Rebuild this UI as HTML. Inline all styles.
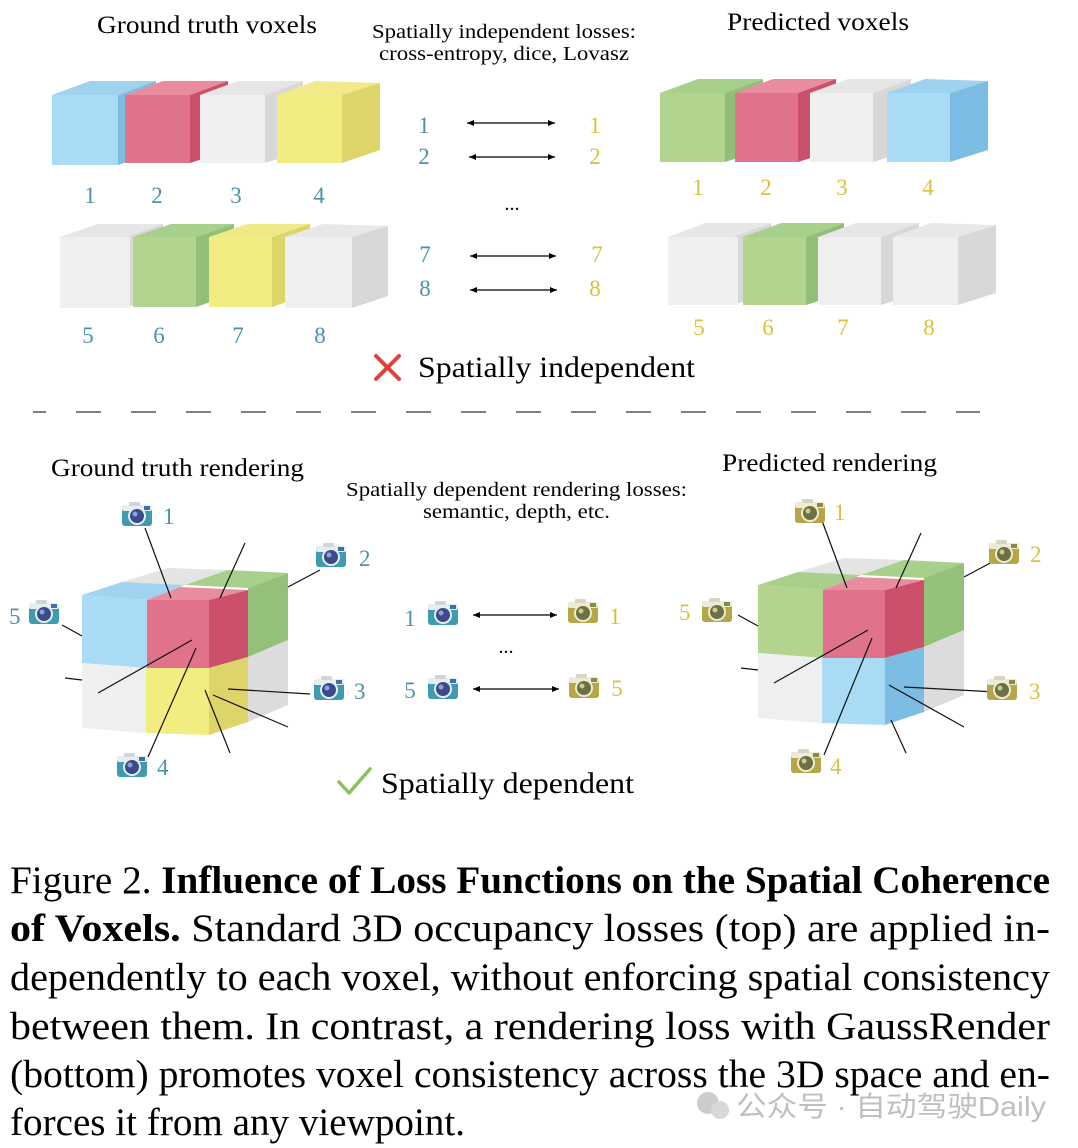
<!DOCTYPE html>
<html><head><meta charset="utf-8"><style>
html,body{margin:0;padding:0;background:#fff}
svg{display:block}
text{font-family:"Liberation Serif",serif}
</style></head><body>
<svg width="1078" height="1148" viewBox="0 0 1078 1148" xmlns="http://www.w3.org/2000/svg">
<defs>
<g id="camT">
<rect x="-15" y="-11" width="30" height="21" rx="3" fill="#3f9bb0"/>
<rect x="-15" y="-11" width="30" height="6" rx="2" fill="#e8eef0"/>
<rect x="-8" y="-14" width="11" height="4" rx="1" fill="#d0d6d8"/>
<rect x="7" y="-10" width="6" height="4" fill="#3a6fb0"/>
<circle cx="0" cy="0" r="9" fill="#e8eef0"/>
<circle cx="0" cy="0" r="7" fill="#3b4a8a"/>
<circle cx="-2" cy="-2" r="2.5" fill="#8fa0d8"/>
</g>
<g id="camY">
<rect x="-15" y="-11" width="30" height="21" rx="3" fill="#b7a648"/>
<rect x="-15" y="-11" width="30" height="6" rx="2" fill="#ecebd8"/>
<rect x="-8" y="-14" width="11" height="4" rx="1" fill="#d8d6c0"/>
<rect x="7" y="-10" width="6" height="4" fill="#8a8a40"/>
<circle cx="0" cy="0" r="9" fill="#ecebd8"/>
<circle cx="0" cy="0" r="7" fill="#6d7040"/>
<circle cx="-2" cy="-2" r="2.5" fill="#c8cc90"/>
</g>
<marker id="ah" markerWidth="8" markerHeight="8" refX="7" refY="4" orient="auto-start-reverse" markerUnits="userSpaceOnUse"><path d="M0,1 L7,4 L0,7 Z" fill="#000"/></marker>
</defs>

<!-- titles -->
<text x="97" y="33" font-size="25" textLength="220" lengthAdjust="spacingAndGlyphs">Ground truth voxels</text>
<text x="727" y="30" font-size="25" textLength="182" lengthAdjust="spacingAndGlyphs">Predicted voxels</text>
<text x="372" y="38" font-size="20" textLength="264" lengthAdjust="spacingAndGlyphs">Spatially independent losses:</text>
<text x="379" y="60" font-size="20" textLength="250" lengthAdjust="spacingAndGlyphs">cross-entropy, dice, Lovasz</text>

<!-- GT row1 -->
<g>
<polygon points="52,95 90,81 156,81 118,95" fill="#9fd2ee"/><polygon points="118,95 156,81 156,151 118,165" fill="#7cbde3"/><rect x="52" y="95" width="66" height="70" fill="#aadbf4"/>
<polygon points="125,95 163,81 228,81 190,95" fill="#e88c9e"/><polygon points="190,95 228,81 228,151 190,163" fill="#cc5069"/><rect x="125" y="95" width="65" height="68" fill="#e0738b"/>
<polygon points="200,95 238,81 303,81 265,95" fill="#e6e6e6"/><polygon points="265,95 303,81 303,151 265,163" fill="#d8d8d8"/><rect x="200" y="95" width="65" height="68" fill="#eeefef"/>
<polygon points="277,95 315,81 380,83 342,95" fill="#f0ea8a"/><polygon points="342,95 380,83 380,150 342,163" fill="#ddd56a"/><rect x="277" y="95" width="65" height="68" fill="#f2ed80"/>
</g>
<g>
<polygon points="60,237 98,224 163,224 125,237" fill="#e6e6e6"/><polygon points="125,237 163,224 163,294 125,308" fill="#d8d8d8"/><rect x="60" y="237" width="70" height="71" fill="#eeefef"/>
<polygon points="133,237 171,224 234,224 196,237" fill="#a8cf8c"/><polygon points="196,237 234,224 234,294 196,307" fill="#92bf78"/><rect x="133" y="237" width="63" height="70" fill="#b2d48e"/>
<polygon points="209,237 247,224 310,224 272,237" fill="#eeea88"/><polygon points="272,237 310,224 310,294 272,307" fill="#ddd56a"/><rect x="209" y="237" width="63" height="70" fill="#f2ed80"/>
<polygon points="285,237 323,224 388,226 352,237" fill="#e8e8e8"/><polygon points="352,237 388,226 388,296 352,308" fill="#d8d8d8"/><rect x="285" y="237" width="67" height="71" fill="#eeefef"/>
</g>
<g font-size="23" fill="#4a93a8" text-anchor="middle">
<text x="90" y="203">1</text><text x="157" y="203">2</text><text x="236" y="203">3</text><text x="319" y="203">4</text>
<text x="88" y="343">5</text><text x="159" y="343">6</text><text x="238" y="343">7</text><text x="320" y="343">8</text>
<text x="424" y="133">1</text><text x="424" y="164">2</text><text x="425" y="262">7</text><text x="425" y="296">8</text>
<text x="410" y="626">1</text><text x="410" y="698">5</text>
</g>

<!-- Pred row1 -->
<g>
<polygon points="660,93 698,79 763,79 725,93" fill="#a8cf8c"/><polygon points="725,93 763,79 763,150 725,162" fill="#92bf78"/><rect x="660" y="93" width="65" height="69" fill="#b2d48e"/>
<polygon points="735,93 773,79 836,79 798,93" fill="#e88c9e"/><polygon points="798,93 836,79 836,150 798,162" fill="#cc5069"/><rect x="735" y="93" width="63" height="69" fill="#e0738b"/>
<polygon points="810,93 848,79 911,79 873,93" fill="#e6e6e6"/><polygon points="873,93 911,79 911,150 873,162" fill="#d8d8d8"/><rect x="810" y="93" width="63" height="69" fill="#eeefef"/>
<polygon points="887,93 925,79 988,81 950,93" fill="#9fd2ee"/><polygon points="950,93 988,81 988,150 950,162" fill="#7cbde3"/><rect x="887" y="93" width="63" height="69" fill="#aadbf4"/>
</g>
<g>
<polygon points="668,237 706,223 771,223 733,237" fill="#e6e6e6"/><polygon points="733,237 771,223 771,293 733,305" fill="#d8d8d8"/><rect x="668" y="237" width="70" height="68" fill="#eeefef"/>
<polygon points="743,237 781,223 844,223 806,237" fill="#a8cf8c"/><polygon points="806,237 844,223 844,293 806,305" fill="#92bf78"/><rect x="743" y="237" width="63" height="68" fill="#b2d48e"/>
<polygon points="818,237 856,223 919,223 881,237" fill="#e6e6e6"/><polygon points="881,237 919,223 919,293 881,305" fill="#d8d8d8"/><rect x="818" y="237" width="63" height="68" fill="#eeefef"/>
<polygon points="893,237 931,223 996,225 958,237" fill="#e8e8e8"/><polygon points="958,237 996,225 996,293 958,305" fill="#d8d8d8"/><rect x="893" y="237" width="65" height="68" fill="#eeefef"/>
</g>
<g font-size="23" fill="#d8c23c" text-anchor="middle">
<text x="698" y="195">1</text><text x="766" y="195">2</text><text x="842" y="195">3</text><text x="928" y="195">4</text>
<text x="699" y="335">5</text><text x="768" y="335">6</text><text x="843" y="335">7</text><text x="929" y="335">8</text>
<text x="595" y="133">1</text><text x="595" y="164">2</text><text x="597" y="262">7</text><text x="595" y="296">8</text>
<text x="615" y="624">1</text><text x="617" y="696">5</text>
</g>
<g stroke="#000" stroke-width="1.3" marker-start="url(#ah)" marker-end="url(#ah)">
<line x1="467" y1="123" x2="555" y2="123"/><line x1="469" y1="157" x2="555" y2="157"/>
<line x1="470" y1="256" x2="556" y2="256"/><line x1="470" y1="290" x2="557" y2="290"/>
<line x1="473" y1="615" x2="557" y2="615"/><line x1="473" y1="689" x2="559" y2="689"/>
</g>
<text x="512" y="210" font-size="20" text-anchor="middle">...</text>
<text x="506" y="653" font-size="20" text-anchor="middle">...</text>

<!-- spatially independent -->
<g stroke="#d9453c" stroke-width="4" stroke-linecap="round"><line x1="376" y1="356" x2="399" y2="379"/><line x1="399" y1="356" x2="376" y2="379"/></g>
<text x="418" y="377" font-size="30" textLength="277" lengthAdjust="spacingAndGlyphs">Spatially independent</text>
<line x1="33" y1="412" x2="980" y2="412" stroke="#333" stroke-width="1.3" stroke-dasharray="13,30 25,30 25,30 25,30 25,30 25,30 25,30 25,30 25,30 25,30 25,30 25,30 25,30 25,30 25,30 25,30 25,30 12,0"/>

<!-- bottom titles -->
<text x="51" y="476" font-size="25" textLength="253" lengthAdjust="spacingAndGlyphs">Ground truth rendering</text>
<text x="722" y="471" font-size="25" textLength="215" lengthAdjust="spacingAndGlyphs">Predicted rendering</text>
<text x="346" y="496" font-size="20" textLength="341" lengthAdjust="spacingAndGlyphs">Spatially dependent rendering losses:</text>
<text x="423" y="518" font-size="20" textLength="187" lengthAdjust="spacingAndGlyphs">semantic, depth, etc.</text>

<!-- GT big cube -->
<g>
<polygon points="122,582 168,568 228,570 185,585" fill="#e4e4e4"/>
<polygon points="185,585 228,570 288,573 248,588" fill="#a8cf8c"/>
<polygon points="248,588 288,573 288,640 248,657" fill="#94c07a"/>
<polygon points="248,657 288,640 288,705 248,722" fill="#dcdcdc"/>
<polygon points="82,595 122,582 185,585 147,600" fill="#a0d3f0"/>
<polygon points="82,595 147,600 147,668 82,663" fill="#aadbf4"/>
<polygon points="82,663 146,668 146,733 82,728" fill="#eeefef"/>
<polygon points="147,600 180,587 248,590 209,600" fill="#e88c9e"/>
<polygon points="147,600 209,600 209,668 147,668" fill="#e0738b"/>
<polygon points="209,600 248,590 248,657 209,668" fill="#cc5069"/>
<polygon points="146,668 209,668 209,735 146,733" fill="#f2ed80"/>
<polygon points="209,668 248,657 248,722 209,735" fill="#ddd56a"/>
<g stroke="#111" stroke-width="1.2">
<line x1="145" y1="528" x2="171" y2="598"/><line x1="245" y1="543" x2="220" y2="598"/>
<line x1="320" y1="570" x2="288" y2="587"/><line x1="62" y1="625" x2="82" y2="636"/>
<line x1="65" y1="678" x2="82" y2="680"/><line x1="192" y1="640" x2="98" y2="693"/>
<line x1="310" y1="694" x2="228" y2="689"/><line x1="213" y1="695" x2="288" y2="727"/>
<line x1="205" y1="690" x2="230" y2="753"/><line x1="148" y1="757" x2="196" y2="648"/>
</g>
<use href="#camT" x="137" y="516"/><use href="#camT" x="331" y="557"/><use href="#camT" x="44" y="614"/><use href="#camT" x="329" y="690"/><use href="#camT" x="132" y="767"/>
<g font-size="23" fill="#4a93a8"><text x="163" y="524">1</text><text x="359" y="566">2</text><text x="9" y="624">5</text><text x="354" y="699">3</text><text x="157" y="775">4</text></g>
</g>
<use href="#camT" x="443" y="615"/><use href="#camT" x="443" y="689"/>
<use href="#camY" x="583" y="613"/><use href="#camY" x="584" y="688"/>

<!-- Pred big cube -->
<g transform="translate(676,-10)">
<polygon points="122,582 168,568 228,570 185,585" fill="#e4e4e4"/>
<polygon points="185,585 228,570 288,573 248,588" fill="#a8cf8c"/>
<polygon points="248,588 288,573 288,640 248,657" fill="#94c07a"/>
<polygon points="248,657 288,640 288,705 248,722" fill="#dcdcdc"/>
<polygon points="82,595 122,582 185,585 147,600" fill="#a8cf8c"/>
<polygon points="82,595 147,600 147,668 82,663" fill="#b2d48e"/>
<polygon points="82,663 146,668 146,733 82,728" fill="#eeefef"/>
<polygon points="147,600 180,587 248,590 209,600" fill="#e88c9e"/>
<polygon points="147,600 209,600 209,668 147,668" fill="#e0738b"/>
<polygon points="209,600 248,590 248,657 209,668" fill="#cc5069"/>
<polygon points="146,668 209,668 209,735 146,733" fill="#aadbf4"/>
<polygon points="209,668 248,657 248,722 209,735" fill="#7cbde3"/>
<g stroke="#111" stroke-width="1.2">
<line x1="145" y1="528" x2="171" y2="598"/><line x1="245" y1="543" x2="220" y2="598"/>
<line x1="320" y1="570" x2="288" y2="587"/><line x1="62" y1="625" x2="82" y2="636"/>
<line x1="65" y1="678" x2="82" y2="680"/><line x1="192" y1="640" x2="98" y2="693"/>
<line x1="320" y1="702" x2="228" y2="697"/><line x1="213" y1="695" x2="288" y2="737"/>
<line x1="215" y1="730" x2="230" y2="763"/><line x1="148" y1="765" x2="196" y2="648"/>
</g>
</g>
<use href="#camY" x="810" y="513"/><use href="#camY" x="1004" y="554"/><use href="#camY" x="717" y="612"/><use href="#camY" x="1002" y="690"/><use href="#camY" x="806" y="763"/>
<g font-size="23" fill="#d8c23c"><text x="834" y="520">1</text><text x="1030" y="562">2</text><text x="679" y="620">5</text><text x="1029" y="699">3</text><text x="830" y="774">4</text></g>

<!-- spatially dependent -->
<polyline points="339,782 349,793 370,769" fill="none" stroke="#8cc05a" stroke-width="3.5" stroke-linecap="round" stroke-linejoin="round"/>
<text x="381" y="793" font-size="30" textLength="253" lengthAdjust="spacingAndGlyphs">Spatially dependent</text>

<!-- caption -->
<g font-size="39">
<text x="10" y="893" textLength="1040" lengthAdjust="spacingAndGlyphs">Figure 2. <tspan font-weight="bold">Influence of Loss Functions on the Spatial Coherence</tspan></text>
<text x="10" y="941" textLength="1040" lengthAdjust="spacingAndGlyphs"><tspan font-weight="bold">of Voxels.</tspan>  Standard 3D occupancy losses (top) are applied in-</text>
<text x="10" y="990" textLength="1040" lengthAdjust="spacingAndGlyphs">dependently to each voxel, without enforcing spatial consistency</text>
<text x="10" y="1039" textLength="1040" lengthAdjust="spacingAndGlyphs">between them.  In contrast, a rendering loss with GaussRender</text>
<text x="10" y="1087" textLength="1040" lengthAdjust="spacingAndGlyphs">(bottom) promotes voxel consistency across the 3D space and en-</text>
<text x="10" y="1135" textLength="455" lengthAdjust="spacingAndGlyphs">forces it from any viewpoint.</text>
</g>
<g opacity="0.75">
<circle cx="708" cy="1103" r="11" fill="#bbb"/><circle cx="720" cy="1110" r="9" fill="#ccc"/>
<text x="736" y="1116" font-size="28" fill="#aaa" textLength="310" lengthAdjust="spacingAndGlyphs" style="font-family:'Liberation Sans','Noto Sans CJK SC',sans-serif">公众号 · 自动驾驶Daily</text>
</g>
</svg>
</body></html>
